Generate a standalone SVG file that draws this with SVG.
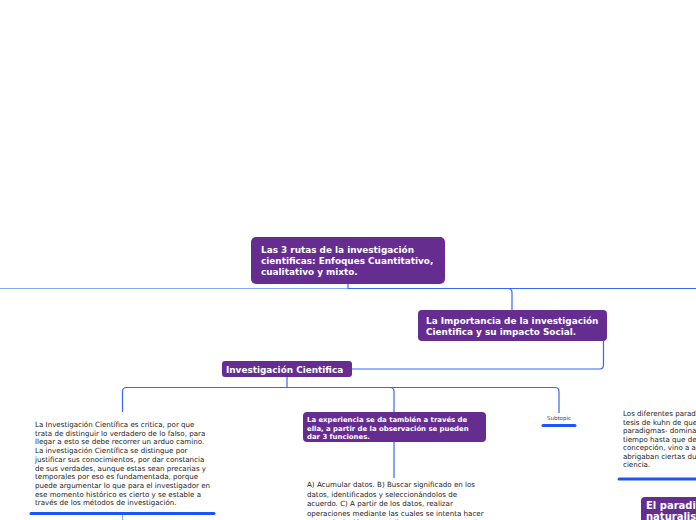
<svg xmlns="http://www.w3.org/2000/svg" width="696" height="520" viewBox="0 0 696 520">
<style>
.node{fill:#662d91;}
.bt{font-family:"DejaVu Sans",Verdana,sans-serif;font-weight:bold;fill:#ffffff;}
.t{font-family:"DejaVu Sans",Verdana,sans-serif;fill:#222222;font-size:7.1px;}
.c{fill:none;stroke:#3668f2;stroke-width:1.2;}
.cl{fill:none;stroke:#86a9f6;stroke-width:1.2;}
.ul{stroke:#1a56f5;stroke-width:3;stroke-linecap:round;}
</style>
<rect width="696" height="520" fill="#ffffff"/>
<g id="connectors">
<path class="cl" d="M0,288.5 H348"/>
<path class="c" d="M348,288.5 H696"/>
<path class="c" d="M348,284 V288.5"/>
<path class="c" d="M348,288.5 H508 Q512,288.5 512,292.5 V310"/>
<path class="c" d="M603.5,341 V365 Q603.5,369 599.5,369 H352"/>
<path class="c" d="M287,377 V387.5"/>
<path class="c" d="M122.5,412 V391.5 Q122.5,387.5 126.5,387.5 H555 Q559,387.5 559,391.5 V413"/>
<path class="c" d="M390,387.5 Q394,387.5 394,391.5 V412"/>
<path class="c" d="M394,442 V478"/>
<path class="cl" d="M122.5,515 V520"/>
</g>
<g id="root">
<rect class="node" x="251" y="237" width="194" height="47" rx="5"/>
<text class="bt" font-size="8.9" x="261" y="253">Las 3 rutas de la investigación</text>
<text class="bt" font-size="8.9" x="261" y="264">cientificas: Enfoques Cuantitativo,</text>
<text class="bt" font-size="8.9" x="261" y="275">cualitativo y mixto.</text>
</g>
<g id="importancia">
<rect class="node" x="418" y="310" width="189" height="31" rx="4"/>
<text class="bt" font-size="8.9" x="426" y="324">La Importancia de la investigación</text>
<text class="bt" font-size="8.9" x="426" y="335">Cientifica  y su impacto Social.</text>
</g>
<g id="investigacion">
<rect class="node" x="222" y="361" width="130" height="16" rx="3"/>
<text class="bt" font-size="8.9" x="226" y="373">Investigación Cientifica</text>
</g>
<g id="texto-critica">
<text class="t" x="35" y="427">La Investigación Científica es critica, por que</text>
<text class="t" x="35" y="435.7">trata de distinguir lo verdadero de lo falso, para</text>
<text class="t" x="35" y="444.4">llegar a esto se debe recorrer un arduo camino.</text>
<text class="t" x="35" y="453.1">La investigación Científica se distingue por</text>
<text class="t" x="35" y="461.8">justificar sus conocimientos, por dar constancia</text>
<text class="t" x="35" y="470.5">de sus verdades, aunque estas sean precarias y</text>
<text class="t" x="35" y="479.2">temporales por eso es fundamentada, porque</text>
<text class="t" x="35" y="487.9">puede argumentar lo que para el investigador en</text>
<text class="t" x="35" y="496.6">ese momento histórico es cierto y se estable a</text>
<text class="t" x="35" y="505.3">través de los métodos de investigación.</text>
<line class="ul" x1="31" y1="513.5" x2="214" y2="513.5"/>
</g>
<g id="experiencia">
<rect class="node" x="303" y="412" width="183" height="30" rx="4"/>
<text class="bt" font-size="6.9" x="307" y="422">La experiencia se da también a través de</text>
<text class="bt" font-size="6.9" x="307" y="430.5">ella, a partir de la observación se pueden</text>
<text class="bt" font-size="6.9" x="307" y="439">dar 3 funciones.</text>
</g>
<g id="funciones">
<text class="t" x="307" y="487">A) Acumular datos. B) Buscar significado en los</text>
<text class="t" x="307" y="496.5">datos, identificados y seleccionándolos de</text>
<text class="t" x="307" y="506">acuerdo. C) A partir de los datos, realizar</text>
<text class="t" x="307" y="515.5">operaciones mediante las cuales se intenta hacer</text>
<text class="t" x="307" y="525">una articulación que expliquen por que surge el</text>
</g>
<g id="subtopic">
<text x="559" y="420" text-anchor="middle" font-family="DejaVu Sans,Verdana,sans-serif" font-size="5.5" fill="#444444">Subtopic</text>
<line class="ul" x1="543" y1="425.5" x2="575" y2="425.5"/>
</g>
<g id="paradigmas">
<text class="t" x="623" y="416">Los diferentes paradigmas</text>
<text class="t" x="623" y="424.5">tesis de kuhn de que</text>
<text class="t" x="623" y="433">paradigmas- dominan</text>
<text class="t" x="623" y="441.5">tiempo hasta que des</text>
<text class="t" x="623" y="450">concepción, vino a ap</text>
<text class="t" x="623" y="458.5">abrigaban ciertas dud</text>
<text class="t" x="623" y="467">ciencia.</text>
<line class="ul" x1="619" y1="479" x2="700" y2="479"/>
</g>
<g id="naturalista">
<rect class="node" x="641" y="497" width="70" height="30" rx="4"/>
<text class="bt" font-size="10" x="646" y="509">El paradigma</text>
<text class="bt" font-size="10" x="646" y="520">naturalista</text>
</g>
</svg>
